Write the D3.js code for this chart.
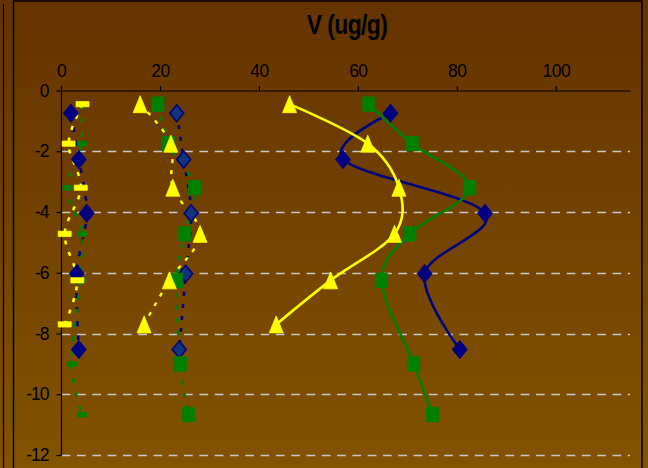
<!DOCTYPE html>
<html>
<head>
<meta charset="utf-8">
<script src="https://cdn.jsdelivr.net/npm/d3@7"></script>
<style>
  html, body { margin: 0; padding: 0; background: #704300; }
  svg { display: block; }
  text { font-family: "Liberation Sans", Arial, sans-serif; fill: #000; }
</style>
</head>
<body>
<svg id="chart" width="648" height="468"></svg>
<script>
// Axis ticks
const xTicks = [0, 20, 40, 60, 80, 100];
const yTicks = [0, -2, -4, -6, -8, -10, -12];

// Sampling depths for each profile type
const depthDiamond  = [-0.75, -2.27, -4.04, -6.03, -8.53];
const depthSquare   = [-0.45, -1.75, -3.2, -4.72, -6.25, -9.0, -10.67];
const depthTriangle = [-0.45, -1.75, -3.2, -4.72, -6.25, -7.7];

// V concentrations (ug/g) — low group
const blueLow   = [2.0, 3.6, 5.2, 3.2, 3.6];
const greenLow  = [4.0, 4.2, 1.3, 4.25, 3.85, 2.2, 4.25];
const yellowLow = [4.35, 1.55, 4.0, 0.75, 3.3, 0.75];

// V concentrations (ug/g) — middle group
const blueMid   = [23.4, 24.8, 26.3, 25.2, 23.9];
const greenMid  = [19.6, 21.7, 27.0, 25.0, 23.4, 24.1, 25.8];
const yellowMid = [16.0, 22.2, 22.6, 28.1, 21.9, 16.8];

// V concentrations (ug/g) — high group
const blueHigh   = [66.6, 57.0, 85.7, 73.5, 80.6];
const greenHigh  = [62.2, 71.0, 82.6, 70.5, 64.8, 71.3, 75.1];
const yellowHigh = [46.2, 62.0, 68.3, 67.4, 54.5, 43.5];

const W = 648, H = 468;
const svg = d3.select("#chart");

// background gradient
const defs = svg.append("defs");
const grad = defs.append("linearGradient").attr("id", "bg")
  .attr("x1", 0).attr("y1", 0).attr("x2", 0).attr("y2", 1);
grad.append("stop").attr("offset", "0%").attr("stop-color", "#653300");
grad.append("stop").attr("offset", "100%").attr("stop-color", "#825300");
svg.append("rect").attr("width", W).attr("height", H).attr("fill", "url(#bg)");

// outer frame lines
svg.append("line").attr("x1", 3.5).attr("x2", 3.5).attr("y1", 4).attr("y2", H)
  .attr("stroke", "#000").attr("stroke-width", 1.3);
svg.append("rect").attr("x", 13.5).attr("y", 1).attr("width", 628.5).attr("height", H + 10)
  .attr("fill", "none").attr("stroke", "#000").attr("stroke-width", 1.5);

const x = d3.scaleLinear().domain([0, 115]).range([61, 630]);
const y = d3.scaleLinear().domain([-12, 0]).range([455, 90.5]);

// horizontal dashed gridlines
svg.append("g").selectAll("line").data(yTicks.filter(d => d !== 0)).join("line")
  .attr("x1", x(0) + 0.7).attr("x2", x(115))
  .attr("y1", d => Math.round(y(d)) + 0.5).attr("y2", d => Math.round(y(d)) + 0.5)
  .attr("stroke", "#c8c8c8").attr("stroke-width", 1.3)
  .attr("stroke-dasharray", "8.7,6.6");

// top x axis
const gx = svg.append("g").attr("transform", `translate(0,${y(0)})`)
  .call(d3.axisTop(x).tickValues(xTicks).tickSize(4.5).tickSizeOuter(0).tickPadding(9)
    .tickFormat(d => String(d)));
gx.select(".domain").attr("stroke", "#000").attr("stroke-width", 1.2);
gx.selectAll(".tick line").attr("stroke", "#000").attr("stroke-width", 1.2);
gx.selectAll(".tick text").attr("font-size", "17.5px").attr("fill", "#000")
  .attr("letter-spacing", "-0.5px");

// left y axis
const gy = svg.append("g").attr("transform", `translate(${x(0)},0)`)
  .call(d3.axisLeft(y).tickValues(yTicks).tickSize(4.5).tickSizeOuter(0).tickPadding(8)
    .tickFormat(d => String(d)));
gy.select(".domain").attr("stroke", "#000").attr("stroke-width", 1.2);
gy.selectAll(".tick line").attr("stroke", "#000").attr("stroke-width", 1.2);
gy.selectAll(".tick text").attr("font-size", "17.5px").attr("fill", "#000")
  .attr("letter-spacing", "-1px");

// title
svg.append("text").attr("transform", "translate(347,33.5) scale(1,1.2)")
  .attr("text-anchor", "middle").attr("font-weight", "bold").attr("font-size", "23px")
  .attr("letter-spacing", "-0.6px").text("V (ug/g)");

const BLUE = "#000080", GREEN = "#008000", YELLOW = "#ffff00";

const series = [
  { v: blueLow,    d: depthDiamond,  color: BLUE,   dash: "5,9",  w: 2.6, mark: "diamond", fill: BLUE },
  { v: greenLow,   d: depthSquare,   color: GREEN,  dash: "5,9",  w: 2.6, mark: "smalldash", fill: GREEN },
  { v: yellowLow,  d: depthTriangle, color: YELLOW, dash: "4,8",  w: 2.6, mark: "dash", fill: YELLOW },
  { v: blueMid,    d: depthDiamond,  color: BLUE,   dash: "4,8",  w: 2.6, mark: "diamond", fill: "#12347a" },
  { v: greenMid,   d: depthSquare,   color: GREEN,  dash: "4.5,8", w: 2.6, mark: "square", fill: GREEN },
  { v: yellowMid,  d: depthTriangle, color: YELLOW, dash: "4,7",  w: 2.4, mark: "triangle", fill: YELLOW },
  { v: blueHigh,   d: depthDiamond,  color: BLUE,   dash: null,   w: 2.6, mark: "diamond", fill: BLUE },
  { v: greenHigh,  d: depthSquare,   color: GREEN,  dash: null,   w: 2.6, mark: "square", fill: GREEN },
  { v: yellowHigh, d: depthTriangle, color: YELLOW, dash: null,   w: 2.6, mark: "triangle", fill: YELLOW }
];

const line = d3.line().x(p => x(p[0])).y(p => y(p[1])).curve(d3.curveCatmullRom.alpha(0));

const gLines = svg.append("g");
series.forEach(s => {
  const pts = s.v.map((v, i) => [v, s.d[i]]);
  gLines.append("path").attr("d", line(pts)).attr("fill", "none")
    .attr("stroke", s.color).attr("stroke-width", s.w)
    .attr("stroke-dasharray", s.dash);
});

function markerPath(kind) {
  switch (kind) {
    case "diamond":   return "M0,-8.5L7,0L0,8.5L-7,0Z";
    case "square":    return "M-6,-7.2H6V7.2H-6Z";
    case "triangle":  return "M0,-8.5L7,8.5H-7Z";
    case "dash":      return "M-6.5,-2.6H6.5V2.6H-6.5Z";
    case "smalldash": return "M-4.5,-2.4H4.5V2.4H-4.5Z";
  }
}

const gMarks = svg.append("g");
series.forEach(s => {
  gMarks.append("g").selectAll("path").data(s.v.map((v, i) => [v, s.d[i]])).join("path")
    .attr("transform", p => `translate(${x(p[0])},${y(p[1])})`)
    .attr("d", markerPath(s.mark))
    .attr("fill", s.fill)
    .attr("stroke", s.color).attr("stroke-width", s.mark === "diamond" ? 1.5 : 0.8);
});
</script>
</body>
</html>
